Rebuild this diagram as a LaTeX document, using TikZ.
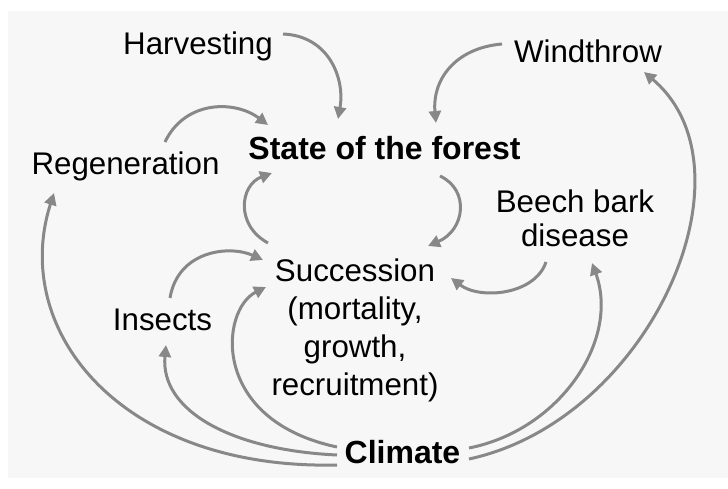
\documentclass[tikz,border=0pt]{standalone}
\usepackage{fontspec}
\setmainfont{Liberation Sans}
\usetikzlibrary{arrows.meta}
\definecolor{bgpanel}{HTML}{F7F7F7}
\definecolor{arrowgray}{HTML}{888888}
\begin{document}
\begin{tikzpicture}[x=1pt,y=-1pt,
  lbl/.style={inner sep=0pt,anchor=base,align=center,font=\fontsize{31.3}{37.7}\selectfont},
  blbl/.style={lbl,font=\fontsize{32}{38}\selectfont\bfseries},
  conn/.style={draw=arrowgray,line width=3pt,-{Triangle[length=12pt,width=12pt]}}]
\fill[white] (0,0) rectangle (728,489);
\fill[bgpanel] (8,11) rectangle (728,478);
\useasboundingbox (0,0) rectangle (728,489);
% nodes (anchor base = baseline of the last line)
\node[lbl]  (harv)  at (198,55)  {Harvesting};
\node[lbl]  (wind)  at (588,63)  {Windthrow};
\node[blbl] (state) at (384.5,160) {State of the forest};
\node[lbl]  (regen) at (125.5,175) {Regeneration};
\node[lbl,font=\fontsize{31.3}{35}\selectfont]  (beech) at (575,247) {Beech bark\\disease};
\node[lbl]  (succ)  at (355,395) {Succession\\(mortality,\\growth,\\recruitment)};
\node[lbl]  (ins)   at (162.5,330) {Insects};
\node[blbl] (clim)  at (402.5,463) {Climate};
% connector end points
\coordinate (h1) at (283,34);   \coordinate (h2) at (338,119);
\coordinate (w1) at (502,44);   \coordinate (w2) at (436,123);
\coordinate (r1) at (165,142);  \coordinate (r2) at (268,125);
\coordinate (s1) at (268,243);  \coordinate (s2) at (272,173);
\coordinate (f1) at (440,176);  \coordinate (f2) at (428,246);
\coordinate (b1) at (546,262);  \coordinate (b2) at (451,278);
\coordinate (i1) at (170,298);  \coordinate (i2) at (263,260);
\coordinate (c1) at (337,447);  \coordinate (c2) at (266,287);
\coordinate (c3) at (337,455);  \coordinate (c4) at (166,345);
\coordinate (c5) at (337,465);  \coordinate (c6) at (54,193);
\coordinate (c7) at (469,448);  \coordinate (c8) at (592,263);
\coordinate (c9) at (469,459);  \coordinate (c10) at (644,72);
% connectors
\draw[conn] (h1) .. controls (330,36) and (345,80) .. (h2);
\draw[conn] (w1) .. controls (455,48) and (432,80) .. (w2);
\draw[conn] (r1) .. controls (185,100) and (235,100) .. (r2);
\draw[conn] (s1) .. controls (235,225) and (240,185) .. (s2);
\draw[conn] (f1) .. controls (470,190) and (465,230) .. (f2);
\draw[conn] (b1) .. controls (535,295) and (480,300) .. (b2);
\draw[conn] (i1) .. controls (178,250) and (230,245) .. (i2);
\draw[conn] (c1) .. controls (210,420) and (220,310) .. (c2);
\draw[conn] (c3) .. controls (230,450) and (160,410) .. (c4);
\draw[conn] (c5) .. controls (120,470) and (10,330) .. (c6);
\draw[conn] (c7) .. controls (560,430) and (620,340) .. (c8);
\draw[conn] (c9) .. controls (650,420) and (760,170) .. (c10);
\end{tikzpicture}
\end{document}
